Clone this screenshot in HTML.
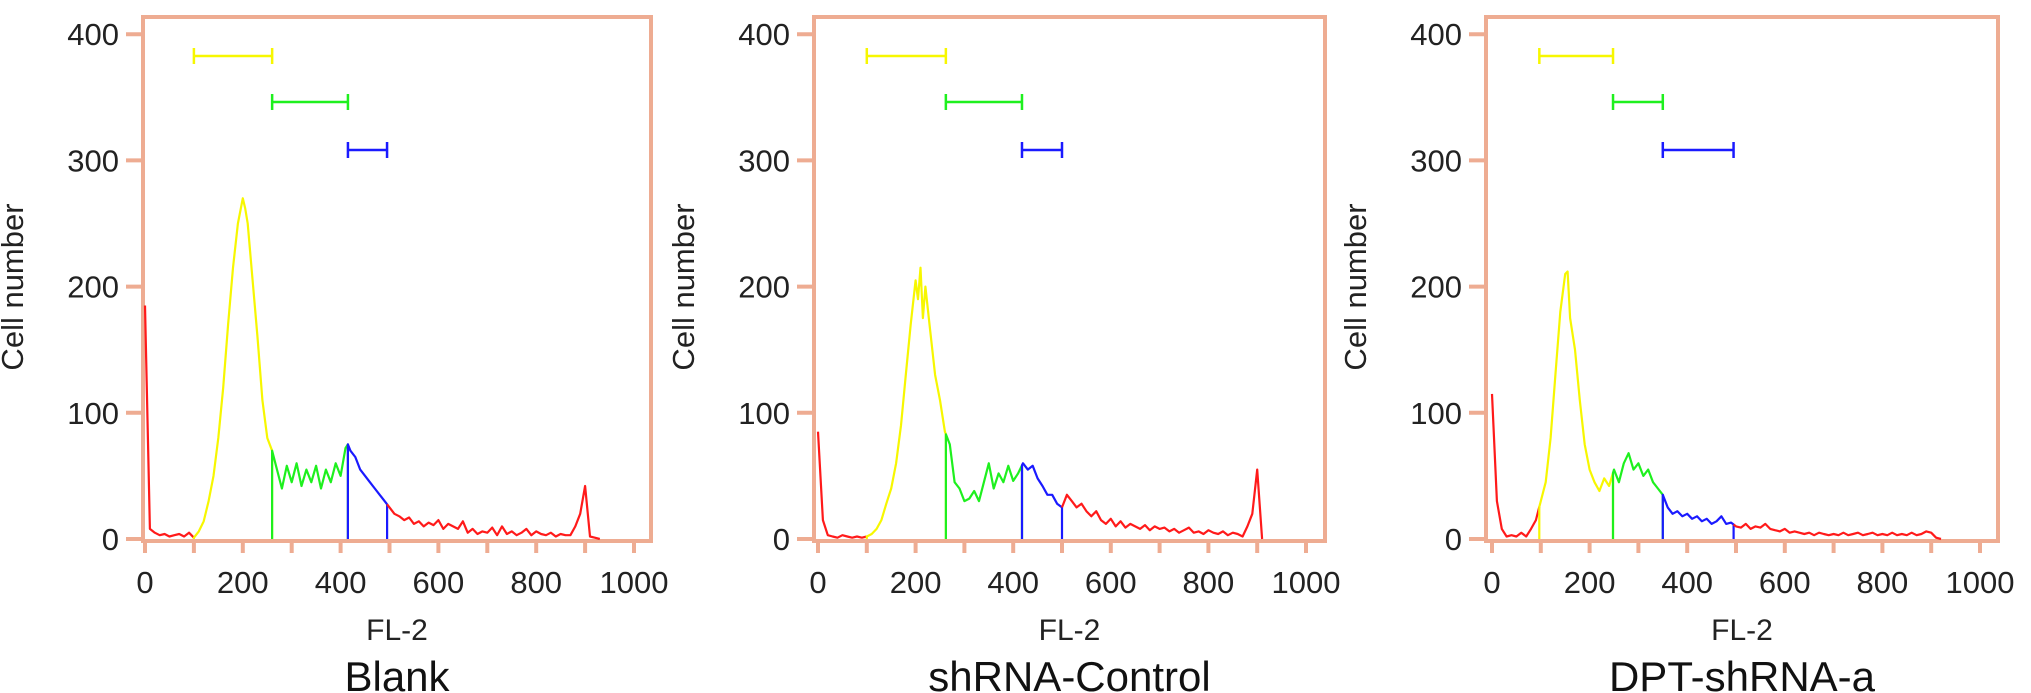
<!DOCTYPE html>
<html><head><meta charset="utf-8"><style>
html,body{margin:0;padding:0;background:#fff;}
svg{display:block;font-family:"Liberation Sans",Arial,sans-serif;}
</style></head><body>
<svg id="chart" width="2031" height="693" viewBox="0 0 2031 693" xmlns="http://www.w3.org/2000/svg"></svg>
<script>
// ---- data ----
const titles = ["Blank", "shRNA-Control", "DPT-shRNA-a"];
const xTickLabels = [0, 200, 400, 600, 800, 1000];
const yTickLabels = [0, 100, 200, 300, 400];

const xs1 = [0,10,20,30,40,50,60,70,80,90,100,110,120,130,140,150,160,170,180,190,200,205,210,220,230,240,250,260,270,280,290,300,310,320,330,340,350,360,370,380,390,400,410,415,420,430,440,450,460,470,480,490,500,510,520,530,540,550,560,570,580,590,600,610,620,630,640,650,660,670,680,690,700,710,720,730,740,750,760,770,780,790,800,810,820,830,840,850,860,870,880,890,900,910,920,930];
const counts1 = [185,8,5,3,4,2,3,4,2,5,1,6,14,30,50,80,120,170,215,250,270,262,250,205,160,110,80,70,55,40,58,45,60,42,55,45,58,40,55,45,60,50,72,75,70,65,55,50,45,40,35,30,25,20,18,15,17,12,14,10,13,11,15,8,12,10,8,14,5,8,4,6,5,9,3,10,4,6,3,5,8,3,6,4,3,5,2,4,3,3,10,20,42,2,1,0];
const gates1 = [100, 260, 415, 495];

const xs2 = [0,10,20,30,40,50,60,70,80,90,100,110,120,130,140,150,160,170,180,190,200,205,210,215,220,230,240,250,260,270,280,290,300,310,320,330,340,350,360,370,380,390,400,410,420,430,440,450,460,470,480,490,500,510,520,530,540,550,560,570,580,590,600,610,620,630,640,650,660,670,680,690,700,710,720,730,740,750,760,770,780,790,800,810,820,830,840,850,860,870,880,890,900,910];
const counts2 = [85,15,3,2,1,3,2,1,2,1,2,4,8,15,28,40,60,90,130,170,205,190,215,175,200,165,130,110,85,75,45,40,30,32,38,30,45,60,40,52,45,58,46,52,60,55,58,48,42,35,35,28,25,35,30,25,28,22,18,22,15,12,16,10,14,9,12,10,8,11,7,10,8,9,6,8,5,7,9,5,6,4,7,5,4,6,3,5,4,2,10,20,55,0];
const gates2 = [100, 262, 418, 500];

const xs3 = [0,10,20,30,40,50,60,70,80,90,100,110,120,130,140,150,155,160,170,180,190,200,210,220,230,240,250,260,270,280,290,300,310,320,330,340,350,360,370,380,390,400,410,420,430,440,450,460,470,480,490,500,510,520,530,540,550,560,570,580,590,600,610,620,630,640,650,660,670,680,690,700,710,720,730,740,750,760,770,780,790,800,810,820,830,840,850,860,870,880,890,900,910,920];
const counts3 = [115,30,8,2,3,2,5,2,8,15,30,45,80,130,180,210,212,175,150,110,75,55,45,38,48,42,55,45,60,68,55,60,50,55,45,40,35,25,20,22,18,20,16,18,14,16,12,14,18,12,13,10,9,12,8,10,9,12,8,7,6,8,5,6,5,4,5,3,5,4,3,4,3,5,3,4,5,3,4,5,3,4,3,5,3,4,3,5,3,4,6,5,1,0];
const gates3 = [97, 248, 350, 495];

const panels = [
  {xs: xs1, ys: counts1, gates: gates1, left: 143, right: 651, x0: 145, x1000: 634},
  {xs: xs2, ys: counts2, gates: gates2, left: 814, right: 1325, x0: 818, x1000: 1306},
  {xs: xs3, ys: counts3, gates: gates3, left: 1486, right: 1998, x0: 1492, x1000: 1980}
];
const TOP = 17, AXIS_Y = 541, Y0 = 539, PX_PER_UNIT_Y = 1.262;
const FRAME = "#eeac92";
const COLORS = {red: "#ff1a1a", yellow: "#f7f700", green: "#1ef01e", blue: "#1a1aff"};
const BAR_Y = [56, 102, 150];

const NS = "http://www.w3.org/2000/svg";
const svg = document.getElementById("chart");
function mk(tag, attrs, parent) {
  const e = document.createElementNS(NS, tag);
  for (const k in attrs) e.setAttribute(k, attrs[k]);
  (parent || svg).appendChild(e);
  return e;
}

panels.forEach((p, pi) => {
  const g = mk("g", {});
  
  
  const sx = v => p.x0 + v * (p.x1000 - p.x0) / 1000;
  const sy = v => Y0 - v * PX_PER_UNIT_Y;

  const fr = mk("rect", {x: p.left, y: TOP, width: p.right - p.left, height: AXIS_Y - TOP, fill: "none", stroke: FRAME, "stroke-width": 4}, g);
  
  

  yTickLabels.forEach(t => {
    const y = sy(t);
    const tk = mk("line", {x1: p.left - 17, x2: p.left, y1: y, y2: y, stroke: FRAME, "stroke-width": 4}, g);
    
    
    const tx = mk("text", {x: p.left - 24, y: y + 11, "font-size": 31, "text-anchor": "end", fill: "#222"}, g);
    tx.textContent = t;
    
    
  });
  for (let v = 0; v <= 1000; v += 100) {
    const x = sx(v);
    const tk = mk("line", {x1: x, x2: x, y1: AXIS_Y, y2: AXIS_Y + 12, stroke: FRAME, "stroke-width": 4}, g);
    
    
  }
  xTickLabels.forEach(t => {
    const tx = mk("text", {x: sx(t), y: 593, "font-size": 31, "text-anchor": "middle", fill: "#222"}, g);
    tx.textContent = t;
    
    
  });
  const cy = 287, cx = p.left - 120;
  const yt = mk("text", {x: cx, y: cy, "font-size": 31, "text-anchor": "middle", fill: "#222", transform: `rotate(-90 ${cx} ${cy})`}, g);
  yt.textContent = "Cell number";
  
  
  const midX = (p.left + p.right) / 2;
  const xt = mk("text", {x: midX, y: 640, "font-size": 30, "text-anchor": "middle", fill: "#222"}, g);
  xt.textContent = "FL-2";
  
  
  const tt = mk("text", {x: midX, y: 691, "font-size": 42, "text-anchor": "middle", fill: "#111"}, g);
  tt.textContent = titles[pi];
  
  

  const G = p.gates;
  function seg(lo, hi, incl) {
    const pts = [];
    p.xs.forEach((x, i) => { if (x >= lo && (incl ? x <= hi : x < hi)) pts.push([sx(x), sy(p.ys[i])]); });
    return pts;
  }
  function interp(v) {
    for (let i = 0; i < p.xs.length - 1; i++) {
      if (p.xs[i] <= v && p.xs[i + 1] >= v) {
        const t = (v - p.xs[i]) / (p.xs[i + 1] - p.xs[i] || 1);
        return p.ys[i] + t * (p.ys[i + 1] - p.ys[i]);
      }
    }
    return 0;
  }
  function path(pts, color, name) {
    const d = pts.map((q, i) => (i ? "L" : "M") + q[0].toFixed(1) + " " + q[1].toFixed(1)).join(" ");
    const e = mk("path", {d: d, fill: "none", stroke: color, "stroke-width": 2.2, "stroke-linejoin": "round"}, g);
    
    
  }
  const rl = seg(0, G[0], false); rl.push([sx(G[0]), sy(interp(G[0]))]);
  path(rl, COLORS.red, 'series-red-subg1');
  const names = ['series-yellow-g1', 'series-green-s', 'series-blue-g2m'];
  const cols = [COLORS.yellow, COLORS.green, COLORS.blue];
  for (let k = 0; k < 3; k++) {
    const a = G[k], b = G[k + 1];
    const pts = [[sx(a), sy(0)], [sx(a), sy(interp(a))]].concat(seg(a + 0.01, b - 0.01, true));
    pts.push([sx(b), sy(interp(b))], [sx(b), sy(0)]);
    path(pts, cols[k], names[k]);
  }
  const rh = [[sx(G[3]), sy(interp(G[3]))]].concat(seg(G[3] + 0.01, 2000, true));
  path(rh, COLORS.red, 'series-red-high');

  for (let k = 0; k < 3; k++) {
    const a = sx(G[k]), b = sx(G[k + 1]), y = BAR_Y[k];
    const bg = mk("g", {stroke: cols[k], "stroke-width": 2.5}, g);
    
    
    mk("line", {x1: a, x2: b, y1: y, y2: y}, bg);
    mk("line", {x1: a, x2: a, y1: y - 8, y2: y + 8}, bg);
    mk("line", {x1: b, x2: b, y1: y - 8, y2: y + 8}, bg);
  }
});
</script>
</body></html>
